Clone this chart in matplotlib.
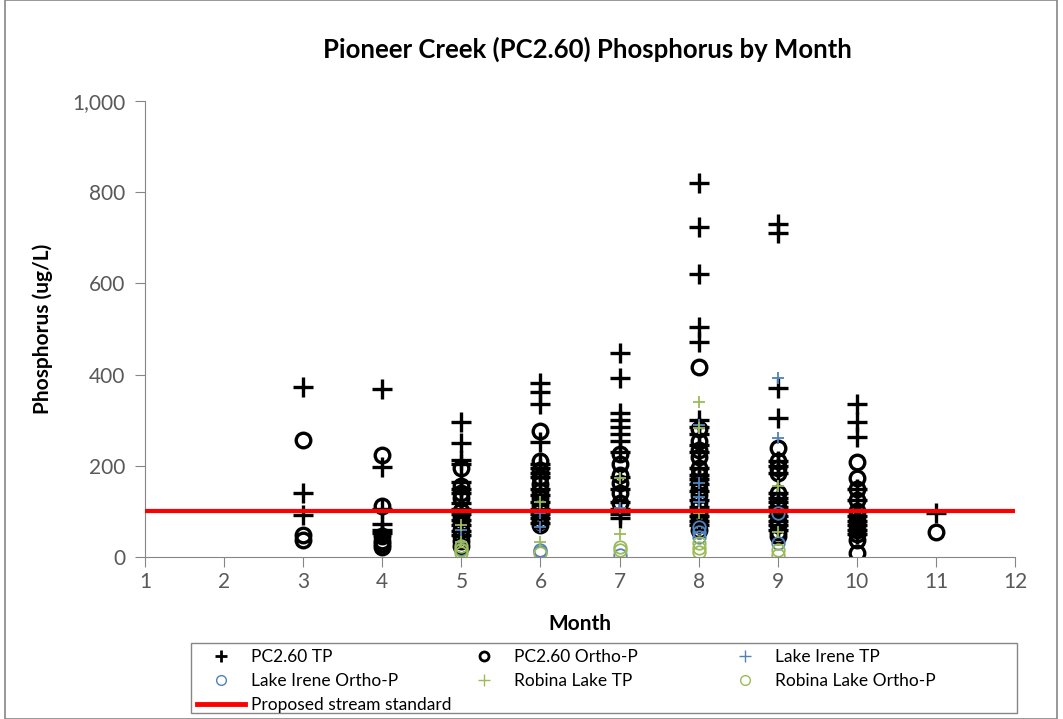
import matplotlib.pyplot as plt
from matplotlib.lines import Line2D
from matplotlib.patches import Rectangle

plt.rcParams['font.family'] = ['Lato', 'DejaVu Sans']

# ------------------------------------------------------------------
# data (ug/L), per month
# ------------------------------------------------------------------
pc_tp = {
    3: [373, 140, 92],
    4: [368, 197, 105, 72, 60, 52],
    5: [297, 250, 213, 205, 165, 150, 140, 118, 105, 95, 82, 70, 58, 48],
    6: [382, 362, 335, 252, 205, 195, 185, 175, 150, 135, 120, 105, 95, 85, 75],
    7: [447, 393, 315, 300, 285, 270, 255, 230, 175, 150, 120, 105, 95, 85],
    8: [820, 724, 621, 505, 471, 300, 285, 270, 245, 230, 195, 180, 170, 160,
        145, 125, 110, 100, 90, 80, 70],
    9: [730, 710, 370, 305, 210, 200, 185, 140, 130, 120, 110, 100, 90, 80, 70, 60],
    10: [335, 295, 263, 150, 125, 100, 90, 80, 70, 60, 50],
    11: [97],
}
pc_ortho = {
    3: [257, 48, 38],
    4: [224, 112, 45, 35, 28, 22],
    5: [195, 155, 140, 130, 100, 90, 75, 60, 45, 35, 25],
    6: [276, 210, 190, 175, 160, 145, 130, 115, 100, 90, 80, 70],
    7: [225, 205, 180, 162, 140, 118],
    8: [417, 280, 255, 235, 220, 195, 180, 165, 150, 135, 120, 110, 95, 85, 75, 60],
    9: [238, 210, 195, 185, 140, 125, 110, 95, 80, 70, 55, 45],
    10: [208, 173, 150, 125, 100, 90, 80, 70, 60, 50, 38, 8],
    11: [55],
}
irene_tp = {5: [60], 6: [96, 66], 7: [107], 8: [290, 162, 132, 120], 9: [392, 262]}
irene_ortho = {5: [18], 6: [15, 10], 7: [5], 8: [66, 55, 44], 9: [96, 30]}
robina_tp = {5: [70, 32], 6: [120, 33], 7: [173, 50], 8: [340, 283, 96], 9: [155, 55]}
robina_ortho = {5: [25, 15, 8], 6: [8], 7: [22, 15], 8: [30, 20, 10], 9: [15, 5]}
standard = 100

BLUE = '#4F81BD'
GREEN = '#9BBB59'
GRID = '#868686'
TXT = '#595959'


def flat(d):
    xs, ys = [], []
    for m, vals in d.items():
        xs += [m] * len(vals)
        ys += vals
    return xs, ys


fig = plt.figure(figsize=(10.63, 7.19), dpi=100)
ax = fig.add_axes([145 / 1063, 1 - 557 / 719, 870 / 1063, 456 / 719])

# (data, name, plot style, legend style)
series = [
    (pc_tp, 'PC2.60 TP', dict(marker='+', color='black', ms=14, mew=2.4),
     dict(marker='+', color='black', ms=8, mew=2)),
    (pc_ortho, 'PC2.60 Ortho-P', dict(marker='o', mfc='none', mec='black', ms=10.5, mew=2.4),
     dict(marker='o', mfc='none', mec='black', ms=6.5, mew=2)),
    (irene_tp, 'Lake Irene TP', dict(marker='+', color=BLUE, ms=8, mew=1.3),
     dict(marker='+', color=BLUE, ms=8, mew=1)),
    (irene_ortho, 'Lake Irene Ortho-P', dict(marker='o', mfc='none', mec=BLUE, ms=9, mew=1.3),
     dict(marker='o', mfc='none', mec=BLUE, ms=7, mew=1)),
    (robina_tp, 'Robina Lake TP', dict(marker='+', color=GREEN, ms=8, mew=1.3),
     dict(marker='+', color=GREEN, ms=8, mew=1)),
    (robina_ortho, 'Robina Lake Ortho-P', dict(marker='o', mfc='none', mec=GREEN, ms=9, mew=1.3),
     dict(marker='o', mfc='none', mec=GREEN, ms=7, mew=1)),
]
leg_h = []
for d, name, st, lst in series:
    x, y = flat(d)
    ax.plot(x, y, ls='none', **st)
    leg_h.append(Line2D([], [], ls='none', label=name, **lst))

ax.axhline(standard, color='red', lw=3, zorder=5)
line_h = Line2D([], [], color='red', lw=3.5, label='Proposed stream standard')

ax.set_xlim(1, 12)
ax.set_ylim(0, 1000)
ax.set_xticks(range(1, 13))
ax.set_yticks(range(0, 1001, 200))
ax.set_yticklabels(['0', '200', '400', '600', '800', '1,000'])
for s in ['top', 'right']:
    ax.spines[s].set_visible(False)
for s in ['left', 'bottom']:
    ax.spines[s].set_color(GRID)
ax.tick_params(direction='out', length=7, color=GRID, labelsize=15, labelcolor=TXT)
ax.tick_params(axis='y', pad=7)
ax.tick_params(axis='x', pad=4)

ax.set_xlabel('Month', fontsize=15, fontweight='bold', labelpad=16)
ax.set_ylabel('Phosphorus (ug/L)', fontsize=15, fontweight='bold', labelpad=14)
fig.text(587 / 1063, 1 - 49 / 719, 'Pioneer Creek (PC2.60) Phosphorus by Month',
         ha='center', va='center', fontsize=18.5, fontweight='bold')

# legend: three columns, filled row by row like the original
columns = [
    (197, [leg_h[0], leg_h[3], line_h]),
    (460, [leg_h[1], leg_h[4]]),
    (721, [leg_h[2], leg_h[5]]),
]
for x_px, hs in columns:
    lg = fig.legend(handles=hs, labels=[h.get_label() for h in hs],
                    loc='upper left', bbox_to_anchor=(x_px / 1063, 1 - 649 / 719),
                    fontsize=12.5, frameon=False, handlelength=2.75, handletextpad=0.35,
                    labelspacing=0.45, borderaxespad=0, borderpad=0)

fig.patches.append(Rectangle((191 / 1063, 1 - 713 / 719), 826 / 1063, 70 / 719,
                             transform=fig.transFigure, fill=False, edgecolor=GRID, lw=1))
fig.patches.append(Rectangle((5 / 1063, 0), 1052 / 1063, 1, transform=fig.transFigure,
                             fill=False, edgecolor=GRID, lw=1.2))

fig.savefig('out.png', dpi=100)
